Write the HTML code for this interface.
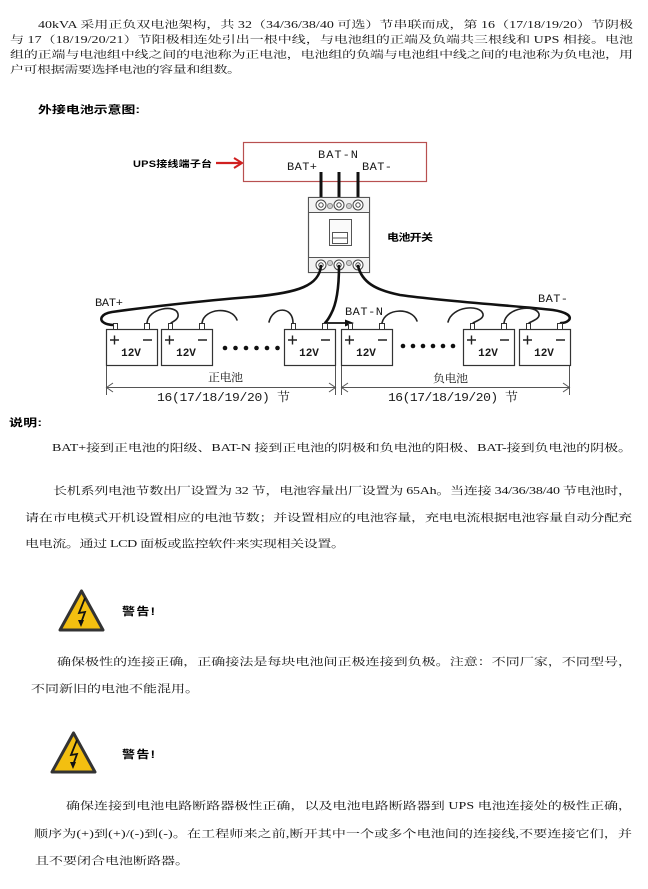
<!DOCTYPE html>
<html>
<head>
<meta charset="utf-8">
<style>
html,body{margin:0;padding:0;background:#fff;}
body{width:648px;height:884px;overflow:hidden;}
.t{font-family:"Liberation Serif","Noto Serif CJK SC",serif;font-size:14px;fill:#151515;}
.b{font-family:"Liberation Sans","Noto Sans CJK SC",sans-serif;font-weight:bold;font-size:14px;fill:#000;}
.m{font-family:"Liberation Mono","Noto Serif CJK SC",monospace;font-size:12px;fill:#1a1a1a;}
.c{font-family:"Liberation Serif","Noto Serif CJK SC",serif;font-size:12px;fill:#1a1a1a;}
.w{fill:none;stroke:#111;stroke-width:2.6;stroke-linecap:round;stroke-linejoin:round;}
.j{fill:none;stroke:#222;stroke-width:1.6;stroke-linecap:round;}
</style>
</head>
<body>
<svg width="648" height="884" viewBox="0 0 648 884" xmlns="http://www.w3.org/2000/svg">
<rect x="0" y="0" width="648" height="884" fill="#fff"/>

<!-- Paragraph 1 -->
<text class="t" transform="translate(38,28) scale(1,0.72)" textLength="595" lengthAdjust="spacing">40kVA 采用正负双电池架构，共 32（34/36/38/40 可选）节串联而成，第 16（17/18/19/20）节阴极</text>
<text class="t" transform="translate(10,43) scale(1,0.72)" textLength="623" lengthAdjust="spacing">与 17（18/19/20/21）节阳极相连处引出一根中线，与电池组的正端及负端共三根线和 UPS 相接。电池</text>
<text class="t" transform="translate(10,58) scale(1,0.72)" textLength="623" lengthAdjust="spacing">组的正端与电池组中线之间的电池称为正电池，电池组的负端与电池组中线之间的电池称为负电池，用</text>
<text class="t" transform="translate(10,73) scale(1,0.72)" textLength="231" lengthAdjust="spacing">户可根据需要选择电池的容量和组数。</text>

<text class="b" transform="translate(38,113) scale(1,0.75)" textLength="102" lengthAdjust="spacing">外接电池示意图:</text>

<!-- Diagram top -->
<text class="b" style="font-size:11px" transform="translate(133,167) scale(1,0.85)" textLength="79" lengthAdjust="spacing">UPS接线端子台</text>
<line x1="216" y1="163" x2="241" y2="163" stroke="#d02020" stroke-width="2.2"/>
<path d="M234,158 L242,163 L234,168" fill="none" stroke="#d02020" stroke-width="2"/>
<rect x="243.5" y="142.5" width="183" height="39" fill="#fff" stroke="#b85050" stroke-width="1.2"/>
<text class="m" transform="translate(318,158) scale(1,0.9)" textLength="40" lengthAdjust="spacing">BAT-N</text>
<text class="m" transform="translate(287,170) scale(1,0.9)" textLength="30" lengthAdjust="spacing">BAT+</text>
<text class="m" transform="translate(362,170) scale(1,0.9)" textLength="30" lengthAdjust="spacing">BAT-</text>
<line x1="321" y1="172" x2="321" y2="203" stroke="#111" stroke-width="3"/>
<line x1="339" y1="172" x2="339" y2="203" stroke="#111" stroke-width="3"/>
<line x1="358" y1="172" x2="358" y2="203" stroke="#111" stroke-width="3"/>

<!-- Switch -->
<rect x="308.5" y="197.5" width="61" height="75" fill="#fff" stroke="#555" stroke-width="1.2"/>
<rect x="308.5" y="197.5" width="61" height="15" fill="#f2f2f2" stroke="#555" stroke-width="1"/>
<rect x="308.5" y="257.5" width="61" height="15" fill="#f2f2f2" stroke="#555" stroke-width="1"/>
<g fill="#fff" stroke="#444" stroke-width="1">
<circle cx="321" cy="205" r="5"/><circle cx="339" cy="205" r="5"/><circle cx="358" cy="205" r="5"/>
<circle cx="321" cy="265" r="5"/><circle cx="339" cy="265" r="5"/><circle cx="358" cy="265" r="5"/>
</g>
<g fill="#ccc" stroke="#777" stroke-width="0.8">
<circle cx="330" cy="206" r="2.6"/><circle cx="349" cy="206" r="2.6"/>
<circle cx="330" cy="263" r="2.6"/><circle cx="349" cy="263" r="2.6"/>
</g>
<g fill="#fff" stroke="#444" stroke-width="1">
<circle cx="321" cy="205" r="2.2"/><circle cx="339" cy="205" r="2.2"/><circle cx="358" cy="205" r="2.2"/>
<circle cx="321" cy="265" r="2.2"/><circle cx="339" cy="265" r="2.2"/><circle cx="358" cy="265" r="2.2"/>
</g>
<rect x="329.5" y="219.5" width="22" height="26" fill="#fafafa" stroke="#555" stroke-width="1"/>
<rect x="332.5" y="232.5" width="15" height="11" fill="#fff" stroke="#555" stroke-width="1"/>
<line x1="332.5" y1="238" x2="347.5" y2="238" stroke="#555" stroke-width="1"/>
<text class="b" style="font-size:12px" transform="translate(387,241) scale(1,0.85)" textLength="46" lengthAdjust="spacing">电池开关</text>

<!-- Wires -->
<path class="w" d="M321,266 C319,285 300,293 250,297 C200,301 140,308 112,312 C100,314 100,320 103,322 C105,324 110,325 114,325"/>
<path class="w" d="M339,266 C339,290 336,305 331,314 C329,318 327,321 325,323"/>
<line x1="325" y1="323" x2="348" y2="323" stroke="#111" stroke-width="1.8"/>
<polygon points="345,319.5 354,323 345,326.5" fill="#111"/>
<path class="w" d="M358,266 C362,282 375,290 400,295 C450,302 520,306 553,310 C566,312 572,316 569,320 C567,322 564,323 561,323"/>

<text class="m" transform="translate(95,306) scale(1,0.9)" textLength="28" lengthAdjust="spacing">BAT+</text>
<text class="m" transform="translate(345,315) scale(1,0.9)" textLength="38" lengthAdjust="spacing">BAT-N</text>
<text class="m" transform="translate(538,302) scale(1,0.9)" textLength="30" lengthAdjust="spacing">BAT-</text>

<!-- Batteries -->
<g id="bat">
</g>
<g stroke="#333" stroke-width="1.2" fill="#fff">
<rect x="106.5" y="329.5" width="51" height="36"/>
<rect x="161.5" y="329.5" width="51" height="36"/>
<rect x="284.5" y="329.5" width="51" height="36"/>
<rect x="341.5" y="329.5" width="51" height="36"/>
<rect x="463.5" y="329.5" width="51" height="36"/>
<rect x="519.5" y="329.5" width="51" height="36"/>
</g>
<g stroke="#333" stroke-width="1" fill="#fff">
<rect x="113.5" y="323.5" width="4" height="6"/><rect x="144.5" y="323.5" width="5" height="6"/>
<rect x="168.5" y="323.5" width="4" height="6"/><rect x="199.5" y="323.5" width="5" height="6"/>
<rect x="291.5" y="323.5" width="4" height="6"/><rect x="322.5" y="323.5" width="5" height="6"/>
<rect x="348.5" y="323.5" width="4" height="6"/><rect x="379.5" y="323.5" width="5" height="6"/>
<rect x="470.5" y="323.5" width="4" height="6"/><rect x="501.5" y="323.5" width="5" height="6"/>
<rect x="526.5" y="323.5" width="4" height="6"/><rect x="557.5" y="323.5" width="5" height="6"/>
</g>
<g stroke="#222" stroke-width="1.4">
<path d="M110,340 H119 M114.5,335.5 V344.5 M143,340 H152"/>
<path d="M165,340 H174 M169.5,335.5 V344.5 M198,340 H207"/>
<path d="M288,340 H297 M292.5,335.5 V344.5 M321,340 H330"/>
<path d="M345,340 H354 M349.5,335.5 V344.5 M378,340 H387"/>
<path d="M467,340 H476 M471.5,335.5 V344.5 M500,340 H509"/>
<path d="M523,340 H532 M527.5,335.5 V344.5 M556,340 H565"/>
</g>
<g class="m" style="font-size:11px;font-weight:bold" text-anchor="middle">
<text x="131" y="356">12V</text>
<text x="186" y="356">12V</text>
<text x="309" y="356">12V</text>
<text x="366" y="356">12V</text>
<text x="488" y="356">12V</text>
<text x="544" y="356">12V</text>
</g>

<!-- Jumpers -->
<path class="j" d="M147,323 C148,308 176,304 178,314 C179,319 174,321 171,323"/>
<path class="j" d="M202,323 C204,308 232,306 237,320"/>
<path class="j" d="M269,322 C273,306 293,306 293,323"/>
<path class="j" d="M382,323 C385,308 412,307 417,321"/>
<path class="j" d="M448,322 C452,306 480,304 483,314 C484,319 476,321 473,323"/>
<path class="j" d="M504,323 C506,307 536,304 539,314 C540,319 532,321 529,323"/>

<!-- Dots -->
<g fill="#111">
<circle cx="225" cy="348" r="2.3"/><circle cx="235.5" cy="348" r="2.3"/><circle cx="246" cy="348" r="2.3"/>
<circle cx="256.5" cy="348" r="2.3"/><circle cx="267" cy="348" r="2.3"/><circle cx="277.5" cy="348" r="2.3"/>
<circle cx="403" cy="346" r="2.3"/><circle cx="413" cy="346" r="2.3"/><circle cx="423" cy="346" r="2.3"/>
<circle cx="433" cy="346" r="2.3"/><circle cx="443" cy="346" r="2.3"/><circle cx="453" cy="346" r="2.3"/>
</g>

<!-- Dimensions -->
<g stroke="#555" stroke-width="1" fill="none">
<path d="M106.5,366 V395 M335.5,366 V395 M341.5,366 V395 M569.5,366 V395"/>
<path d="M106.5,387.5 H335.5 M341.5,387.5 H569.5"/>
<path d="M113,383 L106.5,387.5 L113,392 M329,383 L335.5,387.5 L329,392"/>
<path d="M348,383 L341.5,387.5 L348,392 M563,383 L569.5,387.5 L563,392"/>
</g>
<text class="c" transform="translate(208,381) scale(1,0.9)" textLength="35" lengthAdjust="spacing">正电池</text>
<text class="c" transform="translate(433,382) scale(1,0.9)" textLength="35" lengthAdjust="spacing">负电池</text>
<text class="m" style="font-size:13px" transform="translate(157,401) scale(1,0.9)" textLength="133" lengthAdjust="spacing">16(17/18/19/20) 节</text>
<text class="m" style="font-size:13px" transform="translate(388,401) scale(1,0.9)" textLength="130" lengthAdjust="spacing">16(17/18/19/20) 节</text>

<!-- Explanation -->
<text class="b" transform="translate(9,426) scale(1,0.75)" textLength="33" lengthAdjust="spacing">说明:</text>
<text class="t" transform="translate(52,451) scale(1,0.75)" textLength="580" lengthAdjust="spacing">BAT+接到正电池的阳级、BAT-N 接到正电池的阴极和负电池的阳极、BAT-接到负电池的阴极。</text>
<text class="t" transform="translate(53,494) scale(1,0.75)" textLength="579" lengthAdjust="spacing">长机系列电池节数出厂设置为 32 节，电池容量出厂设置为 65Ah。当连接 34/36/38/40 节电池时，</text>
<text class="t" transform="translate(25,521) scale(1,0.75)" textLength="607" lengthAdjust="spacing">请在市电模式开机设置相应的电池节数；并设置相应的电池容量，充电电流根据电池容量自动分配充</text>
<text class="t" transform="translate(25,547) scale(1,0.75)" textLength="320" lengthAdjust="spacing">电电流。通过 LCD 面板或监控软件来实现相关设置。</text>

<!-- Warning 1 -->
<path d="M81.5,591 L103,630 L60,630 Z" fill="#f3bf10" stroke="#333" stroke-width="3" stroke-linejoin="round"/>
<path d="M85,598 L79,613 L85,612 L81,623" fill="none" stroke="#111" stroke-width="1.8"/>
<polygon points="78,620 81,627 84,620" fill="#111"/>
<text class="b" style="font-size:13px" transform="translate(122,615) scale(1,0.85)" textLength="33" lengthAdjust="spacing">警告!</text>
<text class="t" transform="translate(57,665) scale(1,0.75)" textLength="575" lengthAdjust="spacing">确保极性的连接正确，正确接法是每块电池间正极连接到负极。注意：不同厂家，不同型号，</text>
<text class="t" transform="translate(31,692) scale(1,0.75)" textLength="168" lengthAdjust="spacing">不同新旧的电池不能混用。</text>

<!-- Warning 2 -->
<path d="M73.5,733 L95,772 L52,772 Z" fill="#f3bf10" stroke="#333" stroke-width="3" stroke-linejoin="round"/>
<path d="M77,740 L71,755 L77,754 L73,765" fill="none" stroke="#111" stroke-width="1.8"/>
<polygon points="70,762 73,769 76,762" fill="#111"/>
<text class="b" style="font-size:13px" transform="translate(122,758) scale(1,0.85)" textLength="33" lengthAdjust="spacing">警告!</text>
<text class="t" transform="translate(66,809) scale(1,0.75)" textLength="566" lengthAdjust="spacing">确保连接到电池电路断路器极性正确，以及电池电路断路器到 UPS 电池连接处的极性正确，</text>
<text class="t" transform="translate(34,837) scale(1,0.75)" textLength="598" lengthAdjust="spacing">顺序为(+)到(+)/(-)到(-)。在工程师来之前,断开其中一个或多个电池间的连接线,不要连接它们，并</text>
<text class="t" transform="translate(35,864) scale(1,0.75)" textLength="154" lengthAdjust="spacing">且不要闭合电池断路器。</text>
</svg>
</body>
</html>
